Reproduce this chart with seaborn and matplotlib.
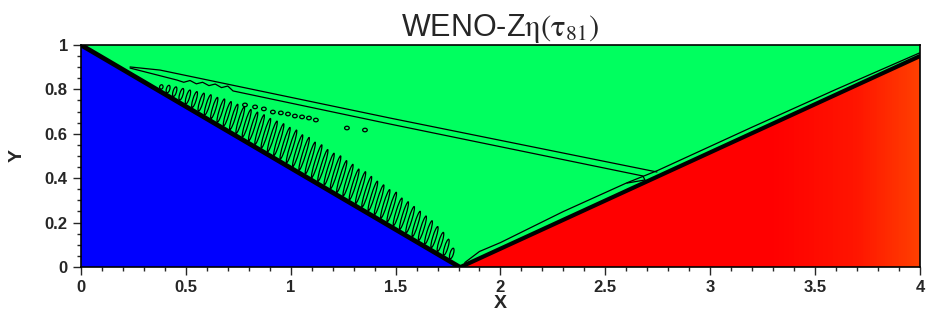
import numpy as np
import matplotlib.pyplot as plt
import seaborn as sns
from matplotlib.colors import LinearSegmentedColormap
from matplotlib.patches import Ellipse
from matplotlib.ticker import MultipleLocator, FormatStrFormatter

# shock positions
incident_x = [0.0, 1.805]
incident_y = [1.0, 0.0]
reflected_x = [1.81, 4.0]
reflected_y = [0.0, 0.95]

# thin contour running just above the reflected shock
front_x = [1.83, 1.90, 2.00, 2.30, 2.60, 2.75, 3.20, 3.60, 4.00]
front_y = [0.02, 0.07, 0.11, 0.25, 0.378, 0.435, 0.63, 0.80, 0.965]

# slip line contour (upper branch, then lower branch)
slip_upper_x = [0.234, 0.377, 1.473, 2.746]
slip_upper_y = [0.901, 0.887, 0.671, 0.428]
slip_lower_x = [0.234, 0.458, 0.49, 0.52, 0.55, 0.58, 0.61, 0.64, 0.67, 0.70, 0.725,
                1.473, 2.679, 2.689, 2.603]
slip_lower_y = [0.896, 0.842, 0.832, 0.840, 0.825, 0.832, 0.817, 0.824, 0.808, 0.815, 0.793,
                0.644, 0.410, 0.392, 0.378]

# spurious wiggles behind the incident shock: foot position on the shock, length
wiggle_x = [0.38, 0.41, 0.44, 0.47, 0.50, 0.53, 0.56, 0.59, 0.62, 0.65, 0.68, 0.71,
            0.74, 0.77, 0.80, 0.83, 0.86, 0.89, 0.92, 0.95, 0.98, 1.01, 1.04, 1.07,
            1.10, 1.13, 1.16, 1.19, 1.22, 1.25, 1.28, 1.31, 1.34, 1.37, 1.40, 1.43,
            1.46, 1.49, 1.52, 1.55, 1.58, 1.61, 1.64, 1.67, 1.70, 1.73, 1.76]
wiggle_len = [0.02, 0.035, 0.045, 0.055, 0.065, 0.075, 0.085, 0.095, 0.10, 0.11, 0.115, 0.12,
              0.125, 0.13, 0.135, 0.14, 0.14, 0.145, 0.15, 0.15, 0.155, 0.15, 0.155, 0.15,
              0.155, 0.15, 0.15, 0.155, 0.15, 0.15, 0.145, 0.15, 0.145, 0.14, 0.14, 0.135,
              0.14, 0.13, 0.13, 0.125, 0.12, 0.115, 0.11, 0.10, 0.09, 0.075, 0.05]

# small closed loops near the top of the wiggle band
blob_x = [0.782, 0.830, 0.872, 0.915, 0.953, 0.987, 1.020, 1.054, 1.087, 1.120, 1.268, 1.354]
blob_y = [0.730, 0.721, 0.712, 0.698, 0.694, 0.689, 0.680, 0.676, 0.671, 0.662, 0.626, 0.617]

# shading of the post-shock region (red -> orange towards the outlet)
shade_x = [1.8, 3.3, 3.7, 4.0]
shade_v = [0.0, 0.0, 0.2, 0.6]

sns.set_style('ticks')
plt.rcParams['font.family'] = ['Liberation Sans', 'DejaVu Sans']
plt.rcParams['mathtext.fontset'] = 'stix'

fig = plt.figure(figsize=(9.35, 3.19), dpi=100)
ax = fig.add_axes([0.0866, 0.163, 0.8973, 0.696])

# build the colour field from the shock positions
gx = np.linspace(0, 4, 840)
gy = np.linspace(0, 1, 224)
X, Y = np.meshgrid(gx, gy)
field = np.ones_like(X)
field[Y < np.interp(X, incident_x, incident_y)] = 0.0
red = (X > reflected_x[0]) & (Y < np.interp(X, reflected_x, reflected_y))
field[red] = 2.0 + np.interp(X, shade_x, shade_v)[red]

cmap = LinearSegmentedColormap.from_list(
    'tec', [(0, '#0000ff'), (1 / 3, '#00ff5f'), (2 / 3, '#ff0000'), (1, '#ff6a00')])
ax.imshow(field, extent=[0, 4, 0, 1], origin='lower', aspect='auto',
          cmap=cmap, vmin=0, vmax=3, interpolation='nearest')

# thick shocks
sns.lineplot(x=incident_x, y=incident_y, color='black', lw=3.4, sort=False, ax=ax)
sns.lineplot(x=reflected_x, y=reflected_y, color='black', lw=3.0, sort=False, ax=ax)

# thin contours
sns.lineplot(x=front_x, y=front_y, color='black', lw=0.9, sort=False, estimator=None, ax=ax)
sns.lineplot(x=slip_upper_x, y=slip_upper_y, color='black', lw=0.9, sort=False,
             estimator=None, ax=ax)
sns.lineplot(x=slip_lower_x, y=slip_lower_y, color='black', lw=0.9, sort=False,
             estimator=None, ax=ax)

tilt = np.deg2rad(18)
for xb, L in zip(wiggle_x, wiggle_len):
    yb = np.interp(xb, incident_x, incident_y) + 0.012
    cx = xb + 0.5 * L * np.sin(tilt)
    cy = yb + 0.5 * L * np.cos(tilt)
    ax.add_patch(Ellipse((cx, cy), 0.016, L, angle=-18, fill=False, ec='black', lw=0.9))

for bx, by in zip(blob_x, blob_y):
    ax.add_patch(Ellipse((bx, by), 0.022, 0.016, fill=False, ec='black', lw=0.9))

ax.set_xlim(0, 4)
ax.set_ylim(0, 1)
ax.xaxis.set_major_locator(MultipleLocator(0.5))
ax.xaxis.set_minor_locator(MultipleLocator(0.1))
ax.yaxis.set_major_locator(MultipleLocator(0.2))
ax.yaxis.set_minor_locator(MultipleLocator(0.05))
ax.xaxis.set_major_formatter(FormatStrFormatter('%g'))
ax.yaxis.set_major_formatter(FormatStrFormatter('%g'))
ax.tick_params(which='major', direction='out', length=6, width=1, labelsize=12)
ax.tick_params(which='minor', direction='out', length=3, width=1)
for lab in ax.get_xticklabels() + ax.get_yticklabels():
    lab.set_fontweight('bold')
for sp in ax.spines.values():
    sp.set_linewidth(1.2)
    sp.set_color('black')

ax.set_xlabel('X', fontsize=14, fontweight='bold', labelpad=0)
ax.set_ylabel('Y', fontsize=14, fontweight='bold', labelpad=14)
ax.set_title(r'WENO-Z$\mathrm{\eta}\left(\mathrm{\tau}_{81}\right)$', fontsize=22, pad=3)

plt.savefig('out.png', dpi=100)
